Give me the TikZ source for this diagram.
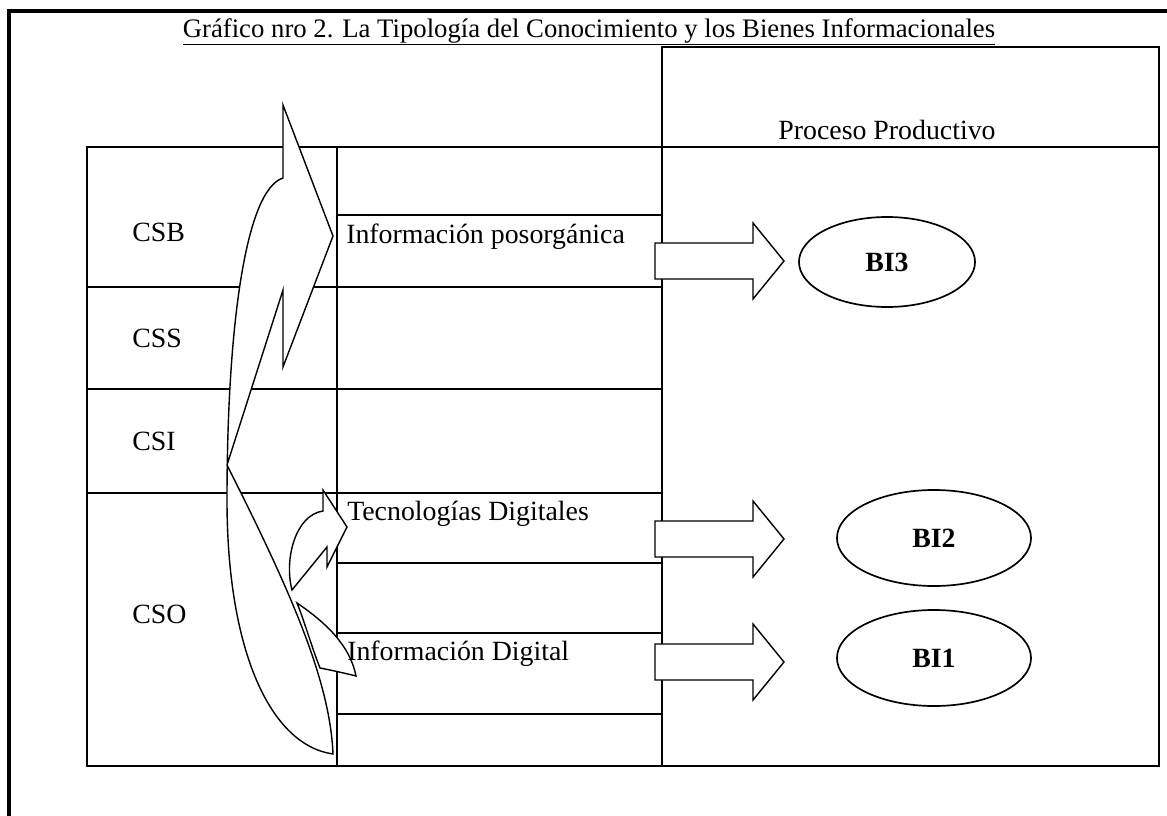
\documentclass[tikz,border=0pt]{standalone}
\usepackage{fontspec}
\setmainfont{Liberation Serif}
\usetikzlibrary{shapes.geometric,positioning}

\begin{document}
\begin{tikzpicture}[x=0.025cm,y=-0.025cm,line join=miter,
                    tabla/.style={line width=1.3pt},
                    flecha/.style={draw,line width=1pt,fill=white},
                    etiq/.style={inner sep=0pt,font=\fontsize{19.8}{24}\selectfont},
                    bien/.style={ellipse,draw,line width=1.2pt,inner sep=0pt,
                                 font=\fontsize{19.8}{24}\selectfont\bfseries}]

  \useasboundingbox (0,0) rectangle (1167,816);
  \draw[line width=2.5pt] (9,816) -- (9,11) -- (1167,11);

  \node[anchor=base,inner sep=0pt,font=\fontsize{19}{23}\selectfont]
       (titulo) at (589,37) {\underline{Gráfico nro 2. La Tipología del Conocimiento y los Bienes Informacionales}};

  % tabla
  \draw[tabla] (87,147) rectangle (337,766);
  \draw[tabla] (337,147) rectangle (662,766);
  \draw[tabla] (662,47) rectangle (1159,766);
  \draw[tabla] (662,147) -- (1159,147);
  \foreach \y in {287,389,493}
    \draw[tabla] (87,\y) -- (337,\y);
  \foreach \y in {215,287,389,493,563,633,714}
    \draw[tabla] (337,\y) -- (662,\y);

  % flechas curvas
  \draw[flecha] (283,105) -- (333,236) -- (283,367) -- (283,290) -- (227,465)
        .. controls (290,590) and (330,680) .. (333,754)
        .. controls (270,745) and (227,650) .. (227,500)
        .. controls (227,330) and (245,190) .. (283,178) -- cycle;
  \draw[flecha] (323,490) -- (347,527) -- (327,567) -- (327,547) -- (292,590)
        .. controls (284,560) and (295,515) .. (323,511) -- cycle;
  \draw[flecha] (297,603) .. controls (325,622) and (350,645) .. (356,676)
        .. controls (340,672) and (330,670) .. (320,668)
        .. controls (312,648) and (304,620) .. cycle;

  \node[etiq,anchor=west] (csb) at (132,232) {CSB};
  \node[etiq,anchor=west] (css) at (132,338) {CSS};
  \node[etiq,anchor=west] (csi) at (132,441) {CSI};
  \node[etiq,anchor=west] (cso) at (132,614) {CSO};

  \node[etiq,anchor=base west] (info)    at (346,243) {Información posorgánica};
  \node[etiq,anchor=base west] (tecno)   at (347,520) {Tecnologías Digitales};
  \node[etiq,anchor=base west] (digital) at (347,660) {Información Digital};

  \node[etiq,anchor=base] (proceso) at (887,139) {Proceso Productivo};

  \node[bien,minimum width=4.4cm,minimum height=2.25cm]  (bi3) at (887,262) {BI3};
  \node[bien,minimum width=4.85cm,minimum height=2.4cm] (bi2) at (934,538) {BI2};
  \node[bien,minimum width=4.85cm,minimum height=2.4cm] (bi1) at (934,658) {BI1};

  % flechas de bloque
  \foreach \y in {261,539,662}
    \draw[flecha] (655,\y-18) -- (753,\y-18) -- (753,\y-38) -- (784,\y)
                  -- (753,\y+38) -- (753,\y+18) -- (655,\y+18) -- cycle;
\end{tikzpicture}
\end{document}
